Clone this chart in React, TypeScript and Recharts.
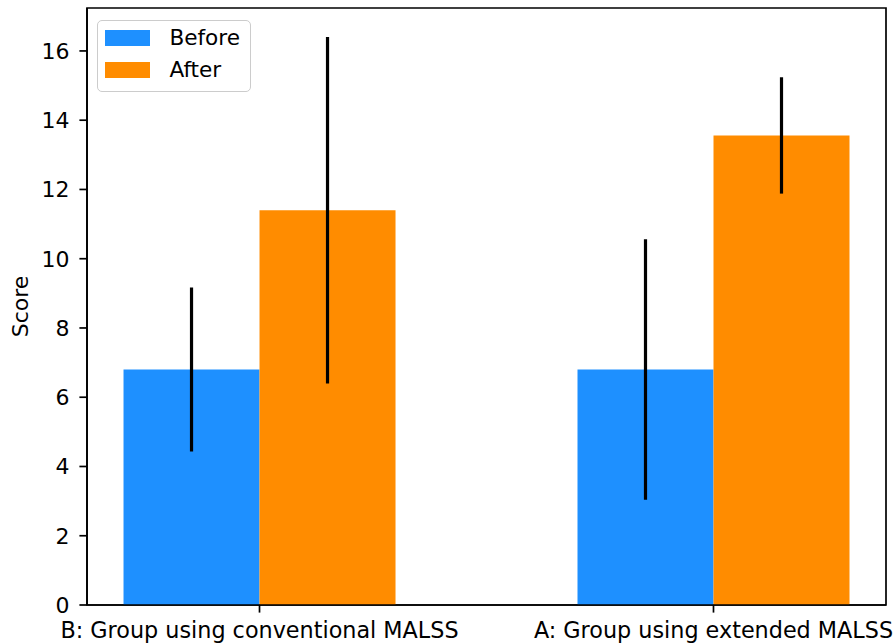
import React from 'react';
import { BarChart, Bar, XAxis, YAxis, ErrorBar, Legend, ReferenceArea, Label } from 'recharts';

const groups = ['B: Group using conventional MALSS', 'A: Group using extended MALSS'];
const groupPositions = [0, 1];
const beforeMeans = [6.8, 6.8];
const beforeErr = [2.37, 3.76];
const afterMeans = [11.4, 13.56];
const afterErr = [5.0, 1.68];
const yTicks = [0, 2, 4, 6, 8, 10, 12, 14, 16];
const legendItems = ['Before', 'After'];

const BLUE = '#1E90FF';
const ORANGE = '#FF8C00';
const FONT = '"DejaVu Sans", sans-serif';
const FS = 21.6;
const XFS = 22.3;
const YFS = 22;

const data = groups.map((g, i) => ({
  x: groupPositions[i],
  name: g,
  before: beforeMeans[i],
  beforeErr: beforeErr[i],
  after: afterMeans[i],
  afterErr: afterErr[i],
}));

const LegendBox = () => (
  <div
    style={{
      position: 'relative',
      width: 154,
      height: 72,
      border: '1.6px solid #cccccc',
      borderRadius: 5,
      background: 'rgba(255,255,255,0.8)',
      fontFamily: FONT,
      fontSize: FS,
      color: '#000',
      boxSizing: 'border-box',
    }}
  >
    {legendItems.map((label, i) => (
      <React.Fragment key={label}>
        <div
          style={{
            position: 'absolute',
            left: 7.4,
            top: 9.4 + i * 32,
            width: 45,
            height: 16,
            background: i === 0 ? BLUE : ORANGE,
          }}
        />
        <div
          style={{
            position: 'absolute',
            left: 71.4,
            top: 9.0 + i * 32,
            height: 16,
            lineHeight: '16px',
            whiteSpace: 'nowrap',
          }}
        >
          {label}
        </div>
      </React.Fragment>
    ))}
  </div>
);

export default function App() {
  return (
    <div style={{ position: 'absolute', left: 0, top: 0, width: 895, height: 643, background: '#fff' }}>
      <BarChart
        width={895}
        height={643}
        data={data}
        margin={{ top: 8, right: 9, bottom: 0, left: 0 }}
        barGap={0}
        barCategoryGap={0}
      >
        <Bar dataKey="before" name="Before" fill={BLUE} barSize={136} isAnimationActive={false}>
          <ErrorBar dataKey="beforeErr" width={0} stroke="#000" strokeWidth={3.2} direction="y" />
        </Bar>
        <Bar dataKey="after" name="After" fill={ORANGE} barSize={136} isAnimationActive={false}>
          <ErrorBar dataKey="afterErr" width={0} stroke="#000" strokeWidth={3.2} direction="y" />
        </Bar>
        <ReferenceArea
          x1={-0.38}
          x2={1.38}
          y1={0}
          y2={17.24}
          fill="none"
          fillOpacity={0}
          stroke="#000"
          strokeWidth={1.7}
          ifOverflow="visible"
        />
        <XAxis
          dataKey="x"
          type="number"
          domain={[-0.38, 1.38]}
          allowDataOverflow
          ticks={groupPositions}
          tickFormatter={(v: number) => groups[groupPositions.indexOf(v)] ?? ''}
          height={38}
          tickSize={7.6}
          tickMargin={9.6}
          axisLine={{ stroke: '#000', strokeWidth: 1.7 }}
          tickLine={{ stroke: '#000', strokeWidth: 1.7 }}
          tick={{ fill: '#000', fontSize: XFS, fontFamily: FONT }}
          interval={0}
        />
        <YAxis
          type="number"
          domain={[0, 17.24]}
          allowDataOverflow
          ticks={yTicks}
          width={87}
          tickSize={7.6}
          tickMargin={10}
          axisLine={{ stroke: '#000', strokeWidth: 1.7 }}
          tickLine={{ stroke: '#000', strokeWidth: 1.7 }}
          tick={{ fill: '#000', fontSize: YFS, fontFamily: FONT }}
          interval={0}
        >
          <Label
            value="Score"
            angle={-90}
            position="center"
            dx={-23}
            style={{ fill: '#000', fontSize: YFS, fontFamily: FONT, textAnchor: 'middle' }}
          />
        </YAxis>
        <Legend
          layout="horizontal"
          verticalAlign="middle"
          align="center"
          content={() => <LegendBox />}
          wrapperStyle={{ position: 'absolute', left: 97, top: 20, width: 154, height: 72 }}
        />
      </BarChart>
    </div>
  );
}
